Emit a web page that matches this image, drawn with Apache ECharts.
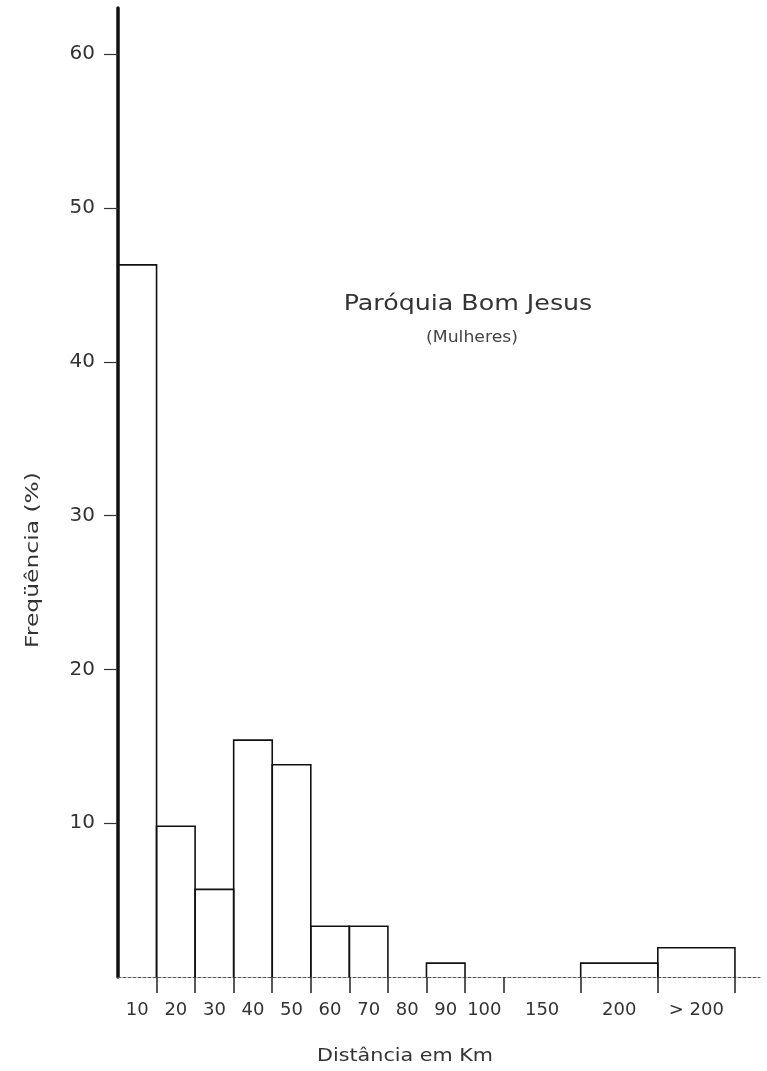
<!DOCTYPE html>
<html><head><meta charset="utf-8">
<script src="https://cdn.jsdelivr.net/npm/echarts@6/dist/echarts.min.js"></script>
<style>html,body{margin:0;padding:0;background:#fff}#c{width:767px;height:1071px}</style>
</head><body><div id="c"></div>
<script>
// Distance classes (km) — label under each class
const categories = ['10','20','30','40','50','60','70','80','90','100','150','200','> 200'];
// drawn width of each class, in class units (wider classes drawn double)
const classWidth = [1,1,1,1,1,1,1,1,1,1,2,2,2];
// Frequency (%)
const frequency = [46.3, 9.8, 5.7, 15.4, 13.8, 3.3, 3.3, 0, 0.9, 0, 0, 0.9, 1.9];
// y tick labels
const yTicks = [10, 20, 30, 40, 50, 60];

const edges = [0];
classWidth.forEach(w => edges.push(edges[edges.length - 1] + w));
const centers = categories.map((c, i) => (edges[i] + edges[i + 1]) / 2);
const data = frequency.map((v, i) => [edges[i], edges[i + 1], v]);

const FONT = 'DejaVu Sans';
const TXT = '#333';
const chart = echarts.init(document.getElementById('c'), null, {renderer: 'canvas'});
chart.setOption({
  animation: false,
  backgroundColor: '#fff',
  graphic: [
    {type: 'text', x: 468, y: 304, scaleX: 1.15,
     style: {text: 'Paróquia Bom Jesus', fontFamily: FONT, fontSize: 22, fill: TXT, align: 'center', verticalAlign: 'middle'}},
    {type: 'text', x: 472, y: 338, scaleX: 1.15,
     style: {text: '(Mulheres)', fontFamily: FONT, fontSize: 15, fill: '#444', align: 'center', verticalAlign: 'middle'}},
    {type: 'text', x: 33, y: 560, rotation: Math.PI / 2, scaleX: 1.3,
     style: {text: 'Freqüência (%)', fontFamily: FONT, fontSize: 18, fill: TXT, align: 'center', verticalAlign: 'middle'}},
    {type: 'text', x: 405, y: 1056, scaleX: 1.15,
     style: {text: 'Distância em Km', fontFamily: FONT, fontSize: 18, fill: TXT, align: 'center', verticalAlign: 'middle'}}
  ],
  grid: {left: 118, right: 7, top: 8, bottom: 94},
  xAxis: {
    type: 'value', min: 0, max: 16.65,
    splitLine: {show: false},
    axisLine: {show: true, lineStyle: {color: '#555', width: 1.2, type: [3, 2]}},
    axisTick: {show: true, customValues: edges.slice(1), length: 16, inside: false,
               lineStyle: {color: '#222', width: 1.5}},
    axisLabel: {customValues: centers, margin: 24, fontFamily: FONT, fontSize: 18, color: TXT,
                formatter: v => { const i = centers.findIndex(c => Math.abs(c - v) < 1e-6); return i >= 0 ? categories[i] : ''; }}
  },
  yAxis: {
    type: 'value', min: 0, max: 63,
    splitLine: {show: false},
    axisLine: {show: true, lineStyle: {color: '#111', width: 3.5}},
    axisTick: {show: true, customValues: yTicks, length: 14, lineStyle: {color: '#333', width: 1.2}},
    axisLabel: {customValues: yTicks, margin: 23, fontFamily: FONT, fontSize: 20, color: TXT}
  },
  series: [{
    type: 'custom',
    data: data,
    encode: {x: [0, 1], y: 2},
    renderItem: function (params, api) {
      const x0 = api.value(0), x1 = api.value(1), v = api.value(2);
      if (!v) return null;
      const pts = [api.coord([x0, 0]), api.coord([x0, v]), api.coord([x1, v]), api.coord([x1, 0])];
      return {type: 'polyline', shape: {points: pts},
              style: {stroke: '#111', lineWidth: 1.6, fill: null}};
    }
  }]
});
</script></body></html>
